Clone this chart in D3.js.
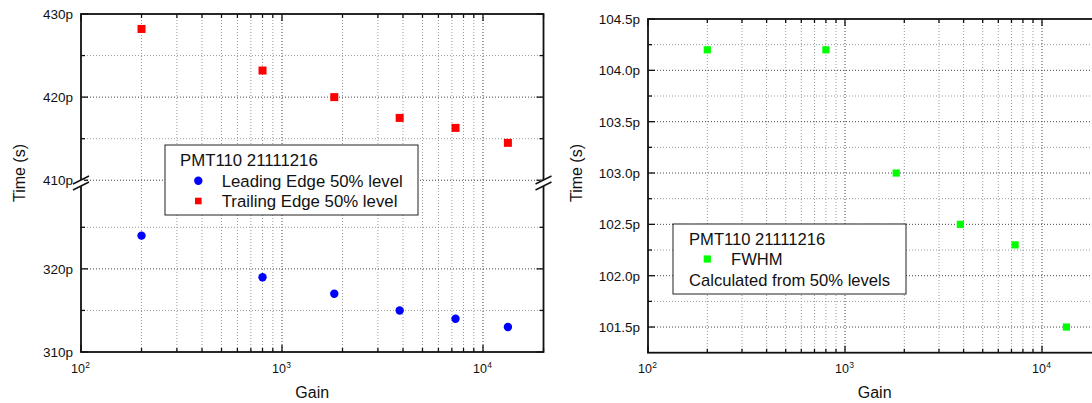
<!DOCTYPE html>
<html><head><meta charset="utf-8">
<script src="https://cdn.jsdelivr.net/npm/d3@7"></script>
<style>
body{margin:0;background:#fff}
svg{display:block}
text{font-family:"Liberation Sans",Arial,sans-serif;fill:#111}
</style>
</head><body><svg id="c" width="1092" height="403"></svg>
<script>
// ---- data (times in ps) ----
const gain = [200, 800, 1820, 3850, 7300, 13300];
const leadingEdge = [324, 319, 317, 315, 314, 313];
const trailingEdge = [428.2, 423.2, 420, 417.5, 416.3, 414.5];
const fwhm = [104.2, 104.2, 103.0, 102.5, 102.3, 101.5];
const xMajorTicks = [100, 1000, 10000];
const xDomain = [100, 20000];
const leftYTicks = [310, 320, 410, 420, 430];
const leftYMinor = [315, 325, 415, 425];
const leftYBreak = [330, 410];
const rightYTicks = [101.5, 102.0, 102.5, 103.0, 103.5, 104.0, 104.5];
const rightYMinor = [101.75, 102.25, 102.75, 103.25, 103.75, 104.25];
const rightYDomain = [101.25, 104.5];
const legendLeft = ["PMT110 21111216", "Leading Edge 50% level", "Trailing Edge 50% level"];
const legendRight = ["PMT110 21111216", "FWHM", "Calculated from 50% levels"];
const xTitle = "Gain", yTitle = "Time (s)";

const svg = d3.select("#c");
const xMinorTicks = [];
xMajorTicks.forEach(d => { for (let k = 2; k <= 9; k++) if (d * k <= xDomain[1]) xMinorTicks.push(d * k); });

function drawPanel(o) {
  const g = svg.append("g");
  const x = o.x, y = o.y;
  const [L, R] = x.range();
  const B = y.range()[0], T = y.range()[y.range().length - 1];
  const gridMajor = {stroke: "#444", dash: "1,2"};
  const gridMinor = {stroke: "#999", dash: "1,2"};
  g.selectAll(null).data(xMinorTicks.filter(d => d < xDomain[1])).enter().append("line")
    .attr("x1", d => x(d)).attr("x2", d => x(d)).attr("y1", T).attr("y2", B)
    .attr("stroke", gridMinor.stroke).attr("stroke-dasharray", gridMinor.dash);
  g.selectAll(null).data(xMajorTicks.filter(d => d > xDomain[0])).enter().append("line")
    .attr("x1", d => x(d)).attr("x2", d => x(d)).attr("y1", T).attr("y2", B)
    .attr("stroke", gridMajor.stroke).attr("stroke-dasharray", gridMajor.dash);
  g.selectAll(null).data(o.yMinor).enter().append("line")
    .attr("x1", L).attr("x2", R).attr("y1", d => y(d)).attr("y2", d => y(d))
    .attr("stroke", gridMinor.stroke).attr("stroke-dasharray", gridMinor.dash);
  g.selectAll(null).data(o.yTicks.filter(d => Math.abs(y(d) - B) > 1 && Math.abs(y(d) - T) > 1)).enter().append("line")
    .attr("x1", L).attr("x2", R).attr("y1", d => y(d)).attr("y2", d => y(d))
    .attr("stroke", gridMajor.stroke).attr("stroke-dasharray", gridMajor.dash);

  const lg = o.legend;
  g.append("rect").attr("x", lg.x).attr("y", lg.y).attr("width", lg.w).attr("height", lg.h)
    .attr("fill", "#fff").attr("stroke", "#222").attr("stroke-width", 1);

  g.append("rect").attr("x", L).attr("y", T).attr("width", R - L).attr("height", B - T)
    .attr("fill", "none").attr("stroke", "#111").attr("stroke-width", 1.8);

  const tick = (data, len) => {
    g.selectAll(null).data(data).enter().append("line")
      .attr("x1", d => x(d)).attr("x2", d => x(d)).attr("y1", B).attr("y2", B - len)
      .attr("stroke", "#111").attr("stroke-width", 1.3);
    g.selectAll(null).data(data).enter().append("line")
      .attr("x1", d => x(d)).attr("x2", d => x(d)).attr("y1", T).attr("y2", T + len)
      .attr("stroke", "#111").attr("stroke-width", 1.3);
  };
  tick(xMinorTicks, 4); tick(xMajorTicks, 7);
  const ytick = (data, len) => {
    g.selectAll(null).data(data).enter().append("line")
      .attr("x1", L).attr("x2", L + len).attr("y1", d => y(d)).attr("y2", d => y(d))
      .attr("stroke", "#111").attr("stroke-width", 1.3);
    g.selectAll(null).data(data).enter().append("line")
      .attr("x1", R).attr("x2", R - len).attr("y1", d => y(d)).attr("y2", d => y(d))
      .attr("stroke", "#111").attr("stroke-width", 1.3);
  };
  ytick(o.yMinor, 4); ytick(o.yTicks, 7);

  xMajorTicks.forEach(d => {
    const e = Math.round(Math.log10(d));
    g.append("text").attr("x", x(d) + 4).attr("y", B + 20.5).attr("text-anchor", "end")
      .attr("font-size", 12.5).text("10");
    g.append("text").attr("x", x(d) + 4.3).attr("y", B + 15.5).attr("text-anchor", "start")
      .attr("font-size", 8.5).text(e);
  });
  g.selectAll(null).data(o.yTicks).enter().append("text")
    .attr("x", L - 8).attr("y", d => y(d)).attr("dy", "0.36em").attr("text-anchor", "end")
    .attr("font-size", 13.5).text(o.yFmt);

  g.append("text").attr("x", (L + R) / 2).attr("y", 398).attr("text-anchor", "middle")
    .attr("font-size", 16).text(xTitle);
  g.append("text").attr("transform", `translate(${o.yTitleX},173) rotate(-90)`)
    .attr("text-anchor", "middle").attr("dy", "0.35em").attr("font-size", 16).text(yTitle);

  return g;
}

// ---------- left panel ----------
const seg = (352 - 14 - 5.5) / 2;
const xL = d3.scaleLog().domain(xDomain).range([81, 81 + 201 * Math.log10(xDomain[1] / xDomain[0])]);
const yL = d3.scaleLinear().domain([leftYTicks[0], leftYBreak[0], leftYBreak[1], leftYTicks[4]])
  .range([352, 352 - seg, 14 + seg, 14]);
const gL = drawPanel({
  x: xL, y: yL, yTicks: leftYTicks, yMinor: leftYMinor, yFmt: d => d + "p", yTitleX: 19,
  legend: {x: 165, y: 145, w: 253, h: 70}
});
const yb = (yL(leftYBreak[0]) + yL(leftYBreak[1])) / 2;
[xL.range()[0], xL.range()[1]].forEach(xx => {
  gL.append("rect").attr("x", xx - 3).attr("y", yb - 3).attr("width", 6).attr("height", 6).attr("fill", "#fff");
  [-3, 3].forEach(o => gL.append("line").attr("x1", xx - 8).attr("y1", yb + o + 4).attr("x2", xx + 8).attr("y2", yb + o - 4)
    .attr("stroke", "#111").attr("stroke-width", 1.5));
});
gL.selectAll(null).data(gain).enter().append("circle")
  .attr("cx", d => xL(d)).attr("cy", (d, i) => yL(leadingEdge[i])).attr("r", 4.2).attr("fill", "#0000ff");
gL.selectAll(null).data(gain).enter().append("rect")
  .attr("x", d => xL(d) - 4).attr("y", (d, i) => yL(trailingEdge[i]) - 4).attr("width", 8).attr("height", 8).attr("fill", "#ff0000");
gL.append("text").attr("x", 180).attr("y", 166).attr("font-size", 16.8).text(legendLeft[0]);
gL.append("circle").attr("cx", 198.3).attr("cy", 180.7).attr("r", 4.2).attr("fill", "#0000ff");
gL.append("text").attr("x", 221.7).attr("y", 186.5).attr("font-size", 16.8).text(legendLeft[1]);
gL.append("rect").attr("x", 195).attr("y", 197.7).attr("width", 6.6).attr("height", 6.6).attr("fill", "#ff0000");
gL.append("text").attr("x", 221.7).attr("y", 207).attr("font-size", 16.8).text(legendLeft[2]);

// ---------- right panel ----------
const xR = d3.scaleLog().domain(xDomain).range([648, 648 + 197 * Math.log10(xDomain[1] / xDomain[0])]);
const yR = d3.scaleLinear().domain(rightYDomain).range([352.7, 19]);
const gR = drawPanel({
  x: xR, y: yR, yTicks: rightYTicks, yMinor: rightYMinor, yFmt: d => d.toFixed(1) + "p", yTitleX: 576,
  legend: {x: 673, y: 224, w: 233, h: 70}
});
gR.selectAll(null).data(gain).enter().append("rect")
  .attr("x", d => xR(d) - 3.6).attr("y", (d, i) => yR(fwhm[i]) - 3.6).attr("width", 7.2).attr("height", 7.2).attr("fill", "#00ff00");
gR.append("text").attr("x", 689).attr("y", 244.5).attr("font-size", 16.6).text(legendRight[0]);
gR.append("rect").attr("x", 703.7).attr("y", 255.4).attr("width", 7.2).attr("height", 7.2).attr("fill", "#00ff00");
gR.append("text").attr("x", 731).attr("y", 265).attr("font-size", 16.6).text(legendRight[1]);
gR.append("text").attr("x", 689).attr("y", 285.5).attr("font-size", 16.6).text(legendRight[2]);
</script>
</body></html>
